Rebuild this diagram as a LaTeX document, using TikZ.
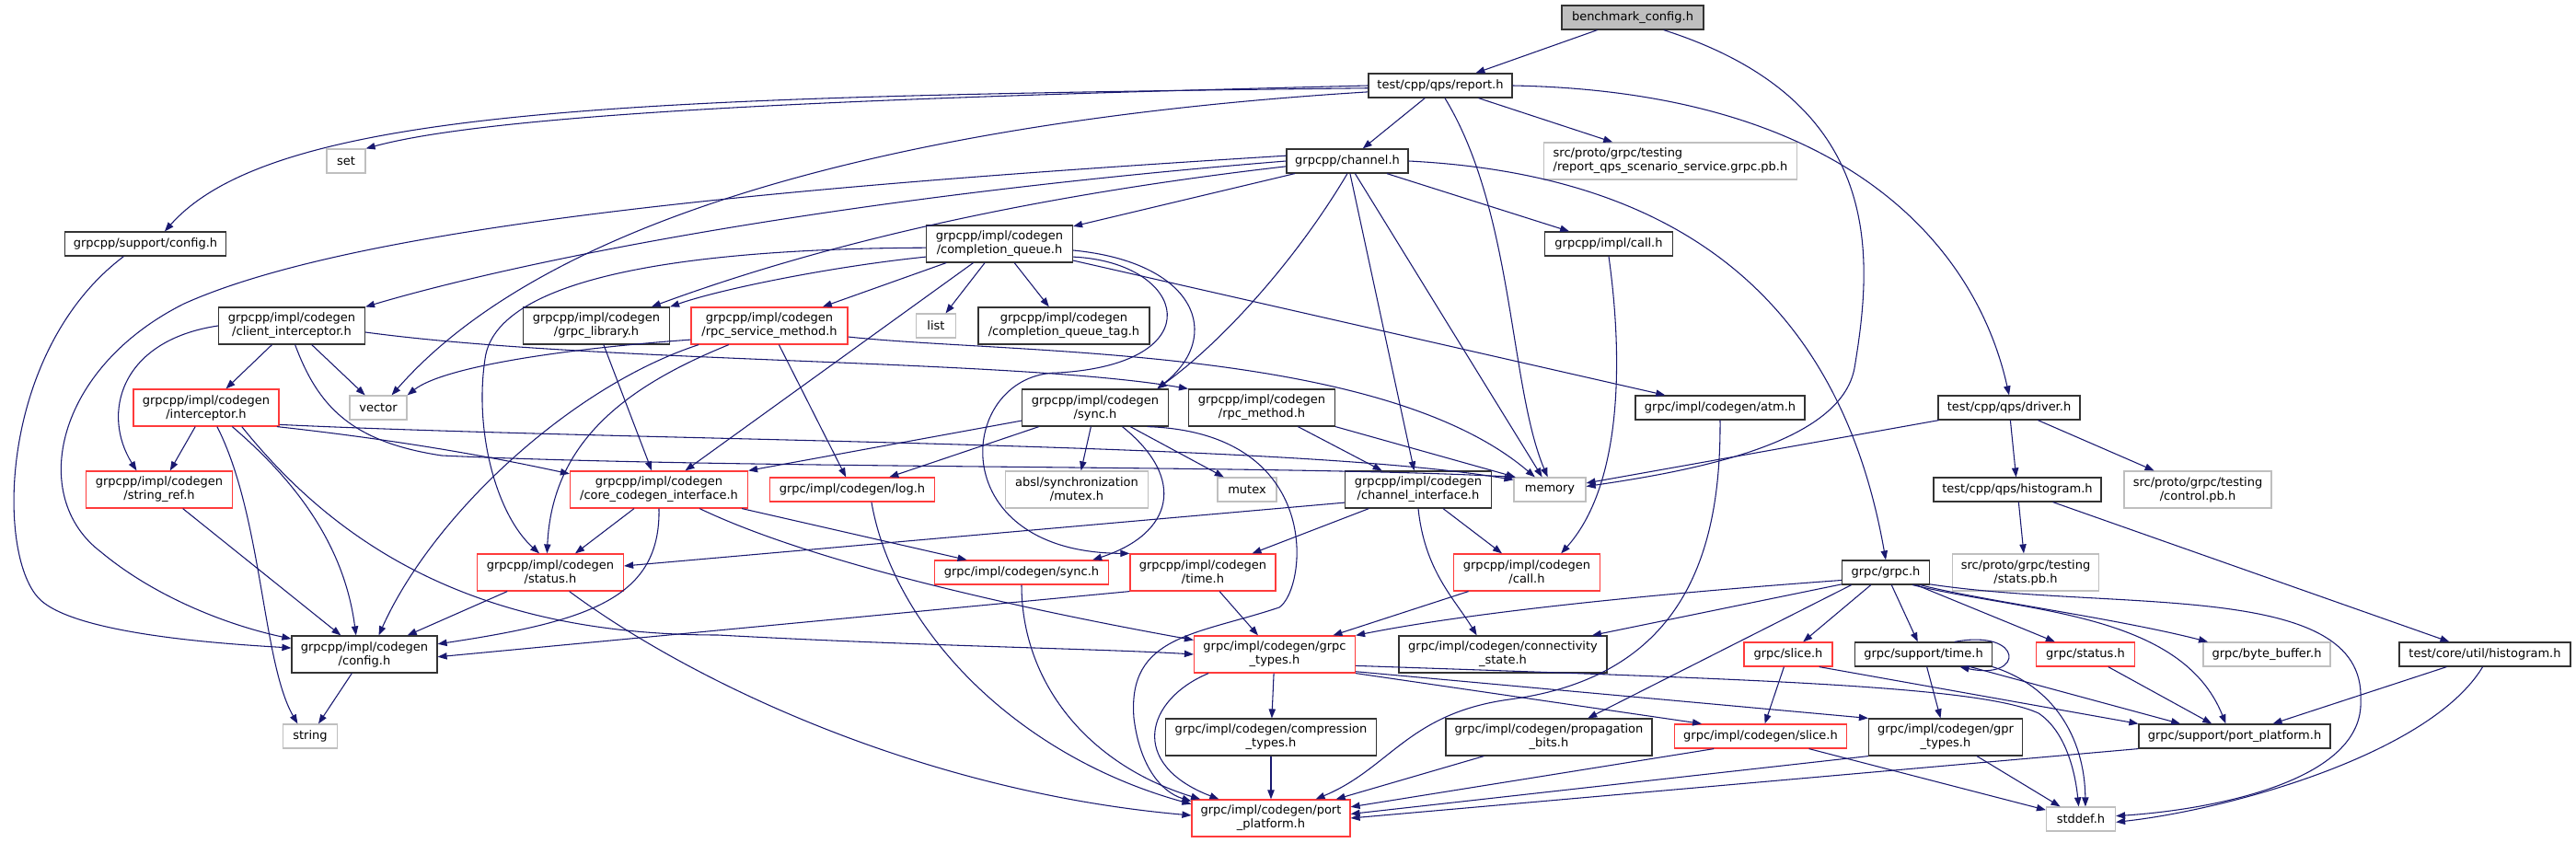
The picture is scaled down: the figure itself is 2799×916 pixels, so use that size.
\documentclass[tikz,border=0pt]{standalone}
\usepackage{fontspec}
\setmainfont{DejaVu Sans}
\usetikzlibrary{arrows.meta}
\definecolor{edgeblue}{HTML}{191970}
\definecolor{truncred}{HTML}{FF3B3B}
\definecolor{sysgray}{HTML}{BFBFBF}

\begin{document}
\begin{tikzpicture}[x=0.75pt, y=-0.75pt, >={Triangle[length=7.5pt,width=5.5pt]},
    font=\fontsize{9.75}{11.25}\selectfont,
    file/.style={draw=black!80, line width=0.9pt, fill=white, inner sep=0pt, minimum height=19.5pt, align=center},
    trunc/.style={file, draw=truncred},
    sys/.style={file, draw=sysgray},
    root/.style={file, fill=sysgray},
    two/.style={minimum height=30pt},
    wd/.style={minimum width=#1*0.75pt},
    dep/.style={->, draw=edgeblue, line width=0.8pt}]
\useasboundingbox[fill=white] (0,0) rectangle (2799,916);

\node[root, wd=154] (bench) at (1774,19) {benchmark\_config.h};
\node[file, wd=156] (report) at (1565,93) {test/cpp/qps/report.h};
\node[sys, wd=42] (set) at (376,175) {set};
\node[file, wd=132] (channel) at (1464,175) {grpcpp/channel.h};
\node[sys, two, wd=275, align=left] (scenario) at (1815,175) {src/proto/grpc/testing\\/report\_qps\_scenario\_service.grpc.pb.h};
\node[file, wd=175] (supconfig) at (158,265) {grpcpp/support/config.h};
\node[file, two, wd=159] (cq) at (1086,265) {grpcpp/impl/codegen\\/completion\_queue.h};
\node[file, wd=139] (implcall) at (1748,265) {grpcpp/impl/call.h};
\node[file, two, wd=159] (clientint) at (317,354) {grpcpp/impl/codegen\\/client\_interceptor.h};
\node[file, two, wd=159] (grpclib) at (648,354) {grpcpp/impl/codegen\\/grpc\_library.h};
\node[trunc, two, wd=170] (rpcsvc) at (836,354) {grpcpp/impl/codegen\\/rpc\_service\_method.h};
\node[sys, wd=43] (list) at (1017,354) {list};
\node[file, two, wd=186] (cqtag) at (1156,354) {grpcpp/impl/codegen\\/completion\_queue\_tag.h};
\node[trunc, two, wd=158] (intercept) at (224,443) {grpcpp/impl/codegen\\/interceptor.h};
\node[sys, wd=62] (vector) at (411,443) {vector};
\node[file, two, wd=159] (ppsync) at (1190,443) {grpcpp/impl/codegen\\/sync.h};
\node[file, two, wd=159] (rpcmethod) at (1371,443) {grpcpp/impl/codegen\\/rpc\_method.h};
\node[file, wd=184] (atm) at (1869,443) {grpc/impl/codegen/atm.h};
\node[file, wd=154] (driver) at (2183,443) {test/cpp/qps/driver.h};
\node[trunc, two, wd=159] (stringref) at (173,532) {grpcpp/impl/codegen\\/string\_ref.h};
\node[trunc, two, wd=193] (cci) at (716,532) {grpcpp/impl/codegen\\/core\_codegen\_interface.h};
\node[trunc, wd=179] (log) at (926,532) {grpc/impl/codegen/log.h};
\node[sys, two, wd=155] (abslmutex) at (1170,532) {absl/synchronization\\/mutex.h};
\node[sys, wd=64] (mutex) at (1355,532) {mutex};
\node[file, two, wd=159] (chanif) at (1541,532) {grpcpp/impl/codegen\\/channel\_interface.h};
\node[sys, wd=78] (memory) at (1684,532) {memory};
\node[file, wd=182] (qpshist) at (2192,532) {test/cpp/qps/histogram.h};
\node[sys, two, wd=160] (control) at (2388,532) {src/proto/grpc/testing\\/control.pb.h};
\node[trunc, two, wd=159] (status) at (598,622) {grpcpp/impl/codegen\\/status.h};
\node[trunc, wd=189] (csync) at (1110,622) {grpc/impl/codegen/sync.h};
\node[trunc, two, wd=158] (time) at (1307,622) {grpcpp/impl/codegen\\/time.h};
\node[trunc, two, wd=159] (call) at (1659,622) {grpcpp/impl/codegen\\/call.h};
\node[file, wd=95] (grpch) at (2049,622) {grpc/grpc.h};
\node[sys, two, wd=159] (stats) at (2201,622) {src/proto/grpc/testing\\/stats.pb.h};
\node[file, two, wd=158] (config) at (396,711) {grpcpp/impl/codegen\\/config.h};
\node[trunc, two, wd=175] (grpctypes) at (1385,711) {grpc/impl/codegen/grpc\\\_types.h};
\node[file, two, wd=226] (connect) at (1633,711) {grpc/impl/codegen/connectivity\\\_state.h};
\node[trunc, wd=96] (slice) at (1943,711) {grpc/slice.h};
\node[file, wd=149] (suptime) at (2090,711) {grpc/support/time.h};
\node[trunc, wd=107] (gstatus) at (2266,711) {grpc/status.h};
\node[sys, wd=138] (bytebuf) at (2463,711) {grpc/byte\_buffer.h};
\node[file, wd=186] (corehist) at (2700,711) {test/core/util/histogram.h};
\node[sys, wd=59] (string) at (337,800) {string};
\node[file, two, wd=229] (compress) at (1381,801) {grpc/impl/codegen/compression\\\_types.h};
\node[file, two, wd=224] (propag) at (1683,801) {grpc/impl/codegen/propagation\\\_bits.h};
\node[trunc, wd=187] (cslice) at (1913,800) {grpc/impl/codegen/slice.h};
\node[file, two, wd=167] (gprtypes) at (2114,801) {grpc/impl/codegen/gpr\\\_types.h};
\node[file, wd=208] (supportpp) at (2428,800) {grpc/support/port\_platform.h};
\node[trunc, two, wd=172] (portplat) at (1381,889) {grpc/impl/codegen/port\\\_platform.h};
\node[sys, wd=75] (stddef) at (2261,890) {stddef.h};

\foreach \a/\b in {bench/report, report/channel, report/scenario, channel/cq, channel/implcall,
    channel/chanif, channel/memory, cq/rpcsvc, cq/cci, cq/list, cq/cqtag, cq/atm,
    clientint/intercept, clientint/vector, grpclib/cci, rpcsvc/log, intercept/stringref,
    ppsync/log, ppsync/abslmutex, ppsync/mutex, rpcmethod/chanif, driver/memory,
    driver/qpshist, driver/control, stringref/config, cci/status, cci/csync, chanif/time,
    chanif/call, qpshist/stats, qpshist/corehist, status/config, time/grpctypes,
    call/grpctypes, config/string, grpch/slice, grpch/suptime, grpch/gstatus,
    grpctypes/compress, slice/cslice, suptime/gprtypes, gstatus/supportpp,
    corehist/supportpp, compress/portplat, propag/portplat, cslice/stddef, gprtypes/stddef}
  \draw[dep] (\a) -- (\b);

\draw[dep] (bench.-22) .. controls (2050,110) and (2035,280) .. (2015,400) .. controls (2000,480) and (1850,510) .. (memory.5);
\draw[dep] (report.west) .. controls (1000,105) and (550,120) .. (set.north east);
\draw[dep] (report.182) .. controls (700,105) and (300,115) .. (supconfig.33);
\draw[dep] (report.185) .. controls (1000,130) and (600,230) .. (vector.43);
\draw[dep] (report.-70) .. controls (1645,230) and (1640,420) .. (memory.100);
\draw[dep] (report.east) .. controls (2020,100) and (2150,280) .. (driver.north);
\draw[dep] (channel.south) .. controls (1410,280) and (1330,370) .. (ppsync.17);
\draw[dep] (channel.east) .. controls (1830,190) and (2000,330) .. (grpch.north);
\draw[dep] (channel.185) .. controls (1100,215) and (880,270) .. (grpclib.19);
\draw[dep] (channel.180) .. controls (900,215) and (560,285) .. (clientint.north east);
\draw[dep] (channel.175) .. controls (900,200) and (400,240) .. (200,330) .. controls (60,400) and (30,540) .. (110,600) .. controls (170,650) and (250,680) .. (config.168);
\draw[dep] (supconfig.-150) .. controls (0,380) and (-5,600) .. (42,650) .. controls (80,690) and (250,700) .. (config.175);
\draw[dep] (cq.190) .. controls (900,290) and (780,315) .. (grpclib.north east);
\draw[dep] (cq.183) .. controls (800,270) and (540,290) .. (527,390) .. controls (515,470) and (540,560) .. (status.120);
\draw[dep] (cq.-5) .. controls (1300,285) and (1330,365) .. (ppsync.17);
\draw[dep] (cq.-10) .. controls (1290,285) and (1320,395) .. (1150,405) .. controls (1040,405) and (1020,600) .. (time.north west);
\draw[dep] (implcall.south) .. controls (1765,400) and (1760,530) .. (call.29);
\draw[dep] (clientint.west) .. controls (130,370) and (110,450) .. (stringref.140);
\draw[dep] (clientint.-80) .. controls (345,440) and (380,480) .. (480,495) .. controls (800,510) and (1400,505) .. (memory.160);
\draw[dep] (clientint.-5) .. controls (650,395) and (1100,390) .. (rpcmethod.north west);
\draw[dep] (rpcsvc.190) .. controls (600,380) and (480,400) .. (vector.north east);
\draw[dep] (rpcsvc.-165) .. controls (620,420) and (470,560) .. (config.53);
\draw[dep] (rpcsvc.-155) .. controls (680,420) and (600,480) .. (status.100);
\draw[dep] (rpcsvc.-8) .. controls (1100,385) and (1500,375) .. (memory.140);
\draw[dep] (intercept.-60) .. controls (285,560) and (285,720) .. (string.135);
\draw[dep] (intercept.-36) .. controls (330,530) and (375,600) .. (config.114);
\draw[dep] (intercept.-28) .. controls (380,610) and (540,690) .. (780,690) .. controls (1000,702) and (1200,705) .. (grpctypes.west);
\draw[dep] (intercept.-15) .. controls (450,480) and (550,500) .. (cci.170);
\draw[dep] (intercept.-13) .. controls (700,480) and (1400,480) .. (memory.165);
\draw[dep] (ppsync.-35) .. controls (1290,520) and (1275,580) .. (csync.10);
\draw[dep] (ppsync.-20) .. controls (1440,470) and (1420,640) .. (1390,660) .. controls (1300,690) and (1225,690) .. (1232,780) .. controls (1238,830) and (1260,860) .. (portplat.168);
\draw[dep] (ppsync.190) -- (cci.north east);
\draw[dep] (rpcmethod.south east) -- (memory.160);
\draw[dep] (atm.south) .. controls (1870,600) and (1830,735) .. (1640,760) .. controls (1530,775) and (1510,835) .. (portplat.23);
\draw[dep] (cci.-25) .. controls (880,610) and (1100,660) .. (grpctypes.170);
\draw[dep] (cci.south) .. controls (718,650) and (640,675) .. (config.8);
\draw[dep] (log.-33) .. controls (970,680) and (1100,820) .. (portplat.170);
\draw[dep] (chanif.190) -- (status.5);
\draw[dep] (chanif.south) .. controls (1548,620) and (1580,650) .. (connect.144);
\draw[dep] (status.-45) .. controls (750,740) and (1000,860) .. (portplat.178);
\draw[dep] (csync.south) .. controls (1110,740) and (1180,830) .. (portplat.165);
\draw[dep] (time.south west) -- (config.-2);
\draw[dep] (grpch.190) .. controls (1800,645) and (1600,665) .. (grpctypes.north east);
\draw[dep] (grpch.195) -- (connect.12);
\draw[dep] (grpch.200) -- (propag.26);
\draw[dep] (grpch.-20) .. controls (2150,652) and (2300,672) .. (bytebuf.168);
\draw[dep] (grpch.-25) .. controls (2200,665) and (2370,665) .. (supportpp.125);
\draw[dep] (grpch.-15) .. controls (2300,665) and (2570,630) .. (2565,760) .. controls (2570,850) and (2400,880) .. (stddef.5);
\draw[dep] (grpctypes.-8) .. controls (1900,738) and (2150,745) .. (2215,775) .. controls (2245,795) and (2255,840) .. (stddef.100);
\draw[dep] (grpctypes.-12) -- (gprtypes.north west);
\draw[dep] (grpctypes.south east) -- (cslice.168);
\draw[dep] (grpctypes.196) .. controls (1245,760) and (1225,830) .. (portplat.160);
\draw[dep] (slice.-22) -- (supportpp.north west);
\draw[dep] (suptime.22) .. controls (2200,683) and (2200,740) .. (suptime.-19);
\draw[dep] (suptime.-15) -- (supportpp.167);
\draw[dep] (suptime.south east) .. controls (2230,745) and (2265,800) .. (stddef.70);
\draw[dep] (corehist.-100) .. controls (2640,820) and (2420,880) .. (stddef.-5);
\draw[dep] (cslice.-165) -- (portplat.8);
\draw[dep] (gprtypes.south west) -- (portplat.3);
\draw[dep] (supportpp.south west) -- (portplat.east);
\end{tikzpicture}
\end{document}
